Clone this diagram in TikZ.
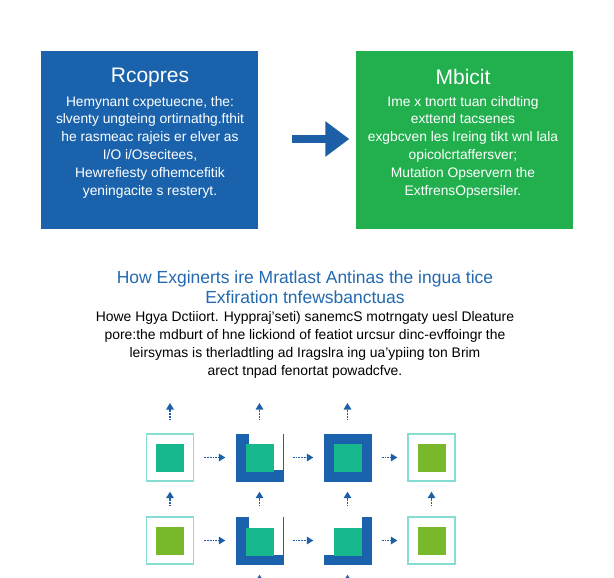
\documentclass[tikz,border=0pt]{standalone}
\usepackage{fontspec}
\setmainfont{Liberation Sans}
\usepackage{xcolor}
\usetikzlibrary{positioning,calc,arrows.meta}

\definecolor{panelblue}{HTML}{1A63AC}
\definecolor{panelgreen}{HTML}{22B04E}
\definecolor{coreteal}{HTML}{17B98C}
\definecolor{corelime}{HTML}{79B72B}
\definecolor{celledge}{HTML}{86DDD2}
\definecolor{headblue}{HTML}{2369B0}
\definecolor{flowblue}{HTML}{1D5FA6}

\begin{document}
\begin{tikzpicture}[x=1pt,y=-1pt]
            \tikzset{
                panel/.style={
                    rectangle,
                    minimum width=217pt,
                    minimum height=177pt,
                    inner sep=0pt
                }
            }
            \tikzset{
                paneltext/.style={
                    text=white,
                    align=center,
                    font=\fontsize{13.8}{17.8}\selectfont
                }
            }
            \tikzset{
                cellw/.style={
                    draw=celledge,
                    line width=1.3pt,
                    fill=white,
                    minimum size=47pt,
                    inner sep=0pt
                }
            }
            \tikzset{
                cellb/.style={
                    fill=panelblue,
                    minimum size=48pt,
                    inner sep=0pt
                }
            }
            \tikzset{
                core/.style={
                    minimum size=28pt,
                    inner sep=0pt
                }
            }
            \tikzset{
                flow/.style={
                    flowblue,
                    densely dotted,
                    line width=1.8pt,
                    -{Triangle[length=6.5pt,width=7.5pt]}
                }
            }

            \useasboundingbox (0,0) rectangle (614,578);

            \node[panel,fill=panelblue] (R) at (149.5,140) {};
            \node[panel,fill=panelgreen] (M) at (464,140) {};

            \node[text=white,font=\fontsize{21}{25}\selectfont] (Rt) at (150,77) {Rcopres};
            \node[paneltext] (Rb) at (150,147) {Hemynant cxpetuecne, the:\\
                slventy ungteing ortirnathg.fthit\\
                he rasmeac rajeis er elver as\\
                I/O i/Osecitees,\\
                Hewrefiesty ofhemcefitik\\
                yeningacite s resteryt.};

            \node[text=white,font=\fontsize{21}{25}\selectfont] (Mt) at (463,77) {Mbicit};
            \node[paneltext] (Mb) at (463,147) {Ime x tnortt tuan cihdting\\
                exttend tacsenes\\
                exgbcven les Ireing tikt wnl lala\\
                opicolcrtaffersver;\\
                Mutation Opservern the\\
                ExtfrensOpsersiler.};

            \draw[flowblue,line width=8pt,-{Triangle[length=24pt,width=34pt]},shorten <=34pt,shorten >=6pt] (R.east |- 0,139) -- (M.west |- 0,139);

            \node[text=headblue,align=center,font=\fontsize{17.5}{20}\selectfont] (H) at (305,287) {How Exginerts ire Mratlast Antinas the ingua tice\\
                Exfiration tnfewsbanctuas};
            \node[align=center,font=\fontsize{13.9}{18}\selectfont] (P) at (305,345) {Howe Hgya Dctiiort. Hyppraj'seti) sanemcS motrngaty uesl Dleature\\
                pore:the mdburt of hne lickiond of featiot urcsur dinc-evffoingr the\\
                leirsymas is therladtling ad Iragslra ing ua'ypiing ton Brim\\
                arect tnpad fenortat powadcfve.};

            \node[cellw] (c11) at (170,457.5) {};
            \node[cellb] (c12) at (259.5,457.5) {};
            \node[cellb] (c13) at (347.5,457.5) {};
            \node[cellw] (c14) at (431.5,457.5) {};
            \node[cellw] (c21) at (170,540.5) {};
            \node[cellb] (c22) at (259.5,540.5) {};
            \node[cellb] (c23) at (347.5,540.5) {};
            \node[cellw] (c24) at (431.5,540.5) {};

            \fill[white] ($(c12.north east)+(-1,1)$) rectangle ++(-34,36);
            \fill[white] ($(c22.north east)+(-1,1)$) rectangle ++(-34,38);
            \fill[white] ($(c23.north west)+(1,1)$) rectangle ++(38,38);

            \node[core,fill=coreteal] at (c11) {};
            \node[core,fill=coreteal] at (c12) {};
            \node[core,fill=coreteal] at (c13) {};
            \node[core,fill=corelime] at (c14) {};
            \node[core,fill=corelime] at (c21) {};
            \node[core,fill=coreteal] at ($(c22)+(0,1.5)$) {};
            \node[core,fill=coreteal] at ($(c23)+(0,1.5)$) {};
            \node[core,fill=corelime] at (c24) {};

            \foreach \r in {1,2}{
                \draw[flow,shorten <=10pt,shorten >=10pt] (c\r1.east) -- (c\r2.west);
                \draw[flow,shorten <=9pt,shorten >=10pt] (c\r2.east) -- (c\r3.west);
                \draw[flow,shorten <=10pt,shorten >=10pt] (c\r3.east) -- (c\r4.west);
            }
            \foreach \c in {1,2,3,4}{
                \draw[flow,shorten <=10pt,shorten >=10pt] (c2\c.north) -- (c1\c.south);
            }

            \coordinate (t1) at (170,403);
            \coordinate (t2) at (259.5,403);
            \coordinate (t3) at (347.5,403);
            \coordinate (b2) at (259.5,595);
            \coordinate (b3) at (347.5,595);
            \foreach \c in {1,2,3}{
                \draw[flow,shorten <=13pt] (c1\c.north) -- (t\c);
            }
            \draw[flow,shorten >=10pt] (b2) -- (c22.south);
            \draw[flow,shorten >=10pt] (b3) -- (c23.south);
        \end{tikzpicture}
\end{document}
